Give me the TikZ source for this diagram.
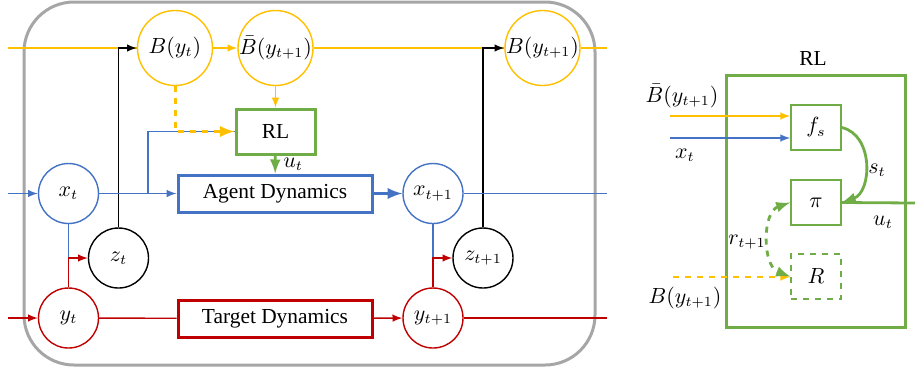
\documentclass[tikz,border=0pt]{standalone}
\usepackage{mathtools,amssymb}
\usepackage{fontspec}
\setmainfont{Liberation Serif}
\usepackage{tikz}
\usetikzlibrary{arrows,shapes,positioning,calc}
\definecolor{cyel}{HTML}{FFC000}
\definecolor{cblu}{HTML}{4472C4}
\definecolor{cred}{HTML}{C00000}
\definecolor{cgrn}{HTML}{70AD47}
\definecolor{cgry}{HTML}{A6A6A6}
\tikzstyle{var}=[circle, draw, minimum size=30pt, inner sep=0pt, line width=0.7pt, fill=white]
\tikzstyle{bel}=[var, draw=cyel, minimum size=37.5pt]
\tikzstyle{dyn}=[rectangle, draw, line width=1.5pt, minimum width=97pt, minimum height=18.5pt, inner sep=0pt, fill=white]
\tikzstyle{sub}=[rectangle, draw=cgrn, line width=0.8pt, minimum width=25pt, minimum height=22.5pt, inner sep=0pt, fill=white]
\tikzstyle{yl}=[cyel, line width=0.7pt]
\tikzstyle{bl}=[cblu, line width=0.7pt]
\tikzstyle{rd}=[cred, line width=0.7pt]
\tikzstyle{gr}=[cgrn, line width=1.4pt]

\begin{document}
\begin{tikzpicture}[x=0.5pt, y=-0.5pt, >=latex, font=\fontsize{10.7pt}{12pt}\selectfont]
				\useasboundingbox(0,0)rectangle(915,372);
				\draw[cgry, line width=1.5pt, rounded corners=25pt](24,2)rectangle(595,365);
				% belief row
				\node[bel](Bt)at(175,48){$\mathclap{B(y_t)}$};
				\node[bel](Bb)at(275.5,48){$\mathclap{\bar{B}(y_{t+1})}$};
				\node[bel](Bn)at(542.5,48){$\mathclap{B(y_{t+1})}$};
				\node[rectangle, draw=cgrn, line width=1.5pt, minimum width=39.5pt, minimum height=22.5pt, fill=white](RL)at(275.5,131.5){RL};
				% agent and target rows
				\node[var, draw=cblu](xt)at(68.5,193.5){$x_t$};
				\node[var, draw=cblu](xn)at(433,193.5){$x_{t+1}$};
				\node[dyn, draw=cblu](AD)at(275,193.5){Agent Dynamics};
				\node[var](zt)at(118.5,258){$z_t$};
				\node[var](zn)at(483,258){$z_{t+1}$};
				\node[var, draw=cred](yt)at(68.5,318){$y_t$};
				\node[var, draw=cred](yn)at(433,318){$y_{t+1}$};
				\node[dyn, draw=cred](TD)at(275,318.5){Target Dynamics};
				\coordinate(Bin)at(8,48);
				\coordinate(Bout)at(607,48);
				\coordinate(xin)at(8,193.5);
				\coordinate(xout)at(607,193.5);
				\coordinate(yin)at(8,318);
				\coordinate(yout)at(607,318);
				\coordinate(br)at(148,193.5);
				\draw[yl](Bin)--(Bt);
				\draw[yl,->](Bt)--(Bb);
				\draw[yl](Bb)--(Bn);
				\draw[yl](Bn)--(Bout);
				\draw[yl,->](Bb)--(RL);
				\draw[->, line width=0.7pt](zt)|-(Bt);
				\draw[->, line width=0.7pt](zn)|-(Bn);
				\draw[bl,->](xin)--(xt);
				\draw[bl,->](xt)--(AD);
				\draw[bl](br)|-(RL.west);
				\draw[cyel, line width=1.5pt, dashed, ->](Bt)|-(RL.west);
				\draw[cblu, line width=1.5pt, ->](AD)--(xn);
				\draw[bl](xn)--(xout);
				\draw[gr,->](RL)--(AD)node[pos=0.5, right, black]{$u_t$};
				\draw[bl](xt)--(xt|-zt);
				\draw[rd,->](yt)|-(zt);
				\draw[bl](xn)--(xn|-zn);
				\draw[rd,->](yn)|-(zn);
				\draw[rd,->](yin)--(yt);
				\draw[rd](yt)--(TD);
				\draw[rd,->](TD)--(yn);
				\draw[rd](yn)--(yout);
				% inside the RL block
				\node[rectangle, draw=cgrn, line width=1.5pt, minimum width=89.5pt, minimum height=126pt](box)at(815.5,201){};
				\node(title)at(813,58){RL};
				\node[sub](fs)at(816,127.5){$f_s$};
				\node[sub](pi)at(816,202.5){$\pi$};
				\node[sub, dashed](R)at(816,276.5){$R$};
				\coordinate(bbin)at(670,116);
				\coordinate(xtin)at(670,138);
				\coordinate(bin)at(673,277);
				\coordinate(uout)at(915,203);
				\draw[yl,->](bbin)--(bbin-|fs.west);
				\draw[bl,->](xtin)--(xtin-|fs.west);
				\draw[yl, dashed,->](bin)--(bin-|R.west);
				\draw[gr,->](fs.east)..controls(874,135)and(872,192)..(pi.east);
				\draw[gr](pi.east)--(uout);
				\draw[gr, dashed, <->](pi.west)..controls(762,212)and(762,266)..(R.west);
				\node(lbb)at(682,96){$\bar{B}(y_{t+1})$};
				\node(lxt)at(685,155){$x_t$};
				\node(lb)at(685,298){$B(y_{t+1})$};
				\node(lst)at(877,170){$s_t$};
				\node(lut)at(883,222){$u_t$};
				\node(lrt)at(747,242){$r_{t+1}$};
			\end{tikzpicture}
\end{document}
